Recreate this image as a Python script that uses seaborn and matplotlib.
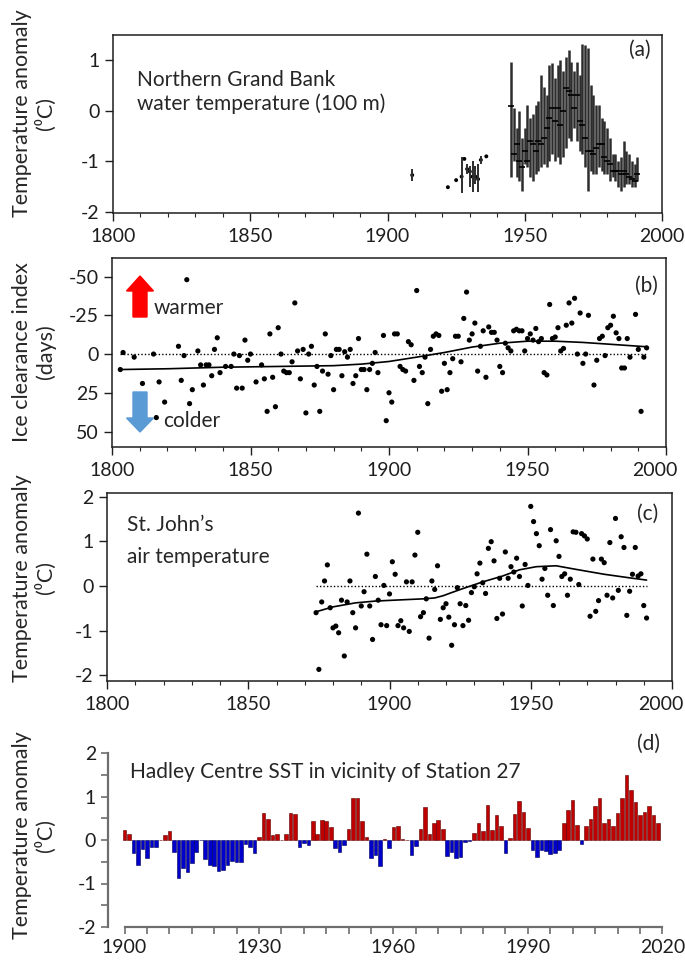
import numpy as np
import matplotlib
matplotlib.use("Agg")
import matplotlib.pyplot as plt
import matplotlib.ticker as mticker
from matplotlib.patches import FancyArrow
from matplotlib.transforms import Affine2D
import seaborn as sns

# ---- data: (a) Northern Grand Bank water temperature (100 m) ----
a_years = list(range(1945, 1992))
a_hi = [0.97, 0.06, -0.33, -0.01, -0.53, -0.33, 0.12, -0.14, -0.07, 0.12,
        0.19, 0.71, 0.48, 0.32, 0.91, 0.94, 0.65, 0.91, 1.01, 0.78,
        1.07, 1.20, 0.97, 0.78, 0.97, 0.71, 1.33, 1.30, 1.24, 0.52,
        0.32, 0.12, 0.12, -0.14, -0.20, -0.33, -0.53, -0.86, -0.86, -0.99,
        -0.92, -0.59, -0.79, -0.86, -0.99, -1.05, -0.92]
a_lo = [-1.31, -0.99, -1.31, -1.38, -1.58, -1.05, -1.12, -1.31, -1.38, -1.25,
        -1.18, -1.12, -1.05, -1.12, -0.99, -0.86, -0.99, -0.92, -1.05, -0.92,
        -0.73, -0.53, -0.59, -0.33, -0.59, -0.79, -0.86, -1.12, -1.58, -1.18,
        -1.25, -1.25, -1.12, -1.18, -1.25, -1.25, -1.38, -1.31, -1.38, -1.51,
        -1.58, -1.51, -1.44, -1.44, -1.51, -1.51, -1.38]
a_mid = [0.09, -0.86, -0.66, -0.99, -1.12, -0.79, -0.99, -0.59, -0.66, -0.79,
         -0.59, -0.66, -0.53, -0.33, -0.14, 0.06, -0.20, 0.06, -0.27, -0.01,
         0.45, 0.39, 0.32, 0.06, 0.32, -0.20, -0.27, -0.53, -0.79, -0.79,
         -0.86, -0.73, -0.66, -0.66, -0.92, -0.99, -1.05, -1.18, -1.18, -1.18,
         -1.25, -1.18, -1.25, -1.31, -1.35, -1.38, -1.25]
a_early_years = [1909, 1922, 1925, 1927, 1928, 1929, 1930, 1931, 1932, 1933, 1934, 1936]
a_early_hi = [-1.15, -1.51, -1.37, -0.91, -0.95, -1.05, -1.10, -1.00, -1.10, -1.05, -0.90, -0.90]
a_early_lo = [-1.39, -1.51, -1.37, -1.63, -0.95, -1.25, -1.50, -1.60, -1.45, -1.60, -1.05, -0.90]
a_early_mid = [-1.27, -1.51, -1.37, -1.30, -0.95, -1.15, -1.20, -1.30, -1.30, -1.35, -0.97, -0.90]

# ---- data: (b) ice clearance index (days) ----
b_years = [1803, 1804, 1808, 1811, 1815, 1816, 1817, 1819, 1824, 1825, 1826, 1827, 1828, 1829,
           1831, 1832, 1833, 1834, 1835, 1836, 1837, 1838, 1839, 1841, 1843, 1844, 1845, 1846,
           1847, 1848, 1849, 1850, 1852, 1854, 1855, 1856, 1857, 1858, 1859, 1860, 1861, 1862,
           1863, 1864, 1865, 1866, 1867, 1868, 1869, 1870, 1871, 1872, 1873, 1874, 1875, 1876,
           1877, 1878, 1879, 1880, 1881, 1882, 1883, 1884, 1885, 1886, 1887, 1888, 1889, 1890,
           1891, 1892, 1893, 1894, 1895, 1896, 1898, 1899, 1900, 1901, 1902, 1903, 1904, 1905,
           1906, 1907, 1908, 1909, 1910, 1911, 1912, 1913, 1914, 1915, 1916, 1917, 1918, 1919,
           1920, 1921, 1922, 1923, 1924, 1925, 1926, 1927, 1928, 1929, 1930, 1931, 1932, 1933,
           1934, 1935, 1936, 1937, 1938, 1939, 1940, 1941, 1942, 1943, 1944, 1945, 1946, 1947,
           1948, 1949, 1950, 1951, 1952, 1953, 1954, 1955, 1956, 1957, 1958, 1959, 1960, 1961,
           1962, 1963, 1964, 1965, 1966, 1967, 1968, 1969, 1970, 1971, 1972, 1974, 1975, 1976,
           1977, 1978, 1979, 1980, 1981, 1982, 1983, 1984, 1985, 1986, 1987, 1989, 1990, 1991,
           1992, 1993]
b_vals = [10, -1, 2, 19, 0, 41, 18, 31, -5, 17, 1, -48, 32, 23,
          -2, 7, 20, 7, 7, 14, -3, -10.5, 12, 8, 8, 0, 22, 1,
          22, -9, 4, 0, 18, 7, 16, 37, -13, 15, 34, -17, 0, 11,
          12, 12, 5, -33, -2, 16, -3, 38, 0, -5, 20, 8, 37, 11,
          -13, 13, 1, 23, -3, -3, 14, -1.5, 2, -3, 19, 14, -10, 10,
          10, 23, 10, 6, -1, 12, -12, 43, 25, 31, -13, -13, 8, 10,
          11, -8, -6, 17, -41, 8, 12, 2, 32, -3, -11.5, -13, -12, 24,
          6, 23, 12, 3, -11.5, -11.5, 5, -23, -40, -9, -13, -20, 11, -5,
          -15, 15, -17.5, -14, -14, -9, 8, 12, -7, -4, -2, -15, -16, -15,
          -15, -2, -10, -13, -9, -16.5, -8, -10, 12, 13.5, -32, -10, -11, -17,
          -2, -3.6, -18.6, -33, -20, -36, 0, -26.5, 6, 0, -25, 20, 4, -10,
          -11.5, 1, -17, -18.6, -24.4, -13.7, -10, 9, 9, -10, 2, -25.6, -3, 37,
          2, -4]
b_smooth_years = [1803, 1820, 1840, 1860, 1880, 1890, 1900, 1910, 1920, 1930, 1940, 1950, 1960, 1970, 1980, 1993]
b_smooth_vals = [10, 9.5, 8.5, 8, 7.5, 6.5, 4.8, 2, -1, -4.5, -7, -8.3, -8.3, -7.5, -6.3, -4.7]

# ---- data: (c) St. John's air temperature ----
c_years = list(range(1874, 1992))
c_vals = [-0.60, -1.87, -0.36, 0.11, 0.47, -0.49, -0.94, -0.90, -1.05, -0.32,
          -1.57, -0.36, 0.11, -0.60, -0.94, 1.63, -0.45, -0.13, 0.71, -0.45,
          -1.20, 0.21, -0.32, -0.87, 0.01, -0.89, -0.18, 0.54, 0.26, -0.89,
          -0.78, -0.94, 0.09, -1.02, 0.09, 0.69, 1.20, -0.69, -0.60, -0.29,
          -1.17, 0.11, -0.08, 0.45, -0.75, -0.49, -0.40, -0.70, -1.33, -0.87,
          -0.04, -0.40, -0.89, -0.44, -0.77, -0.15, -0.02, 0.27, 0.51, 0.07,
          -0.17, 0.84, 0.99, 0.56, -0.73, 0.17, -0.63, 0.76, 0.17, 0.43,
          0.31, 0.62, 0.21, -0.45, 0.48, 0.01, 1.78, 1.44, 1.17, 0.90,
          0.15, 0.39, -0.21, 1.26, -0.44, 1.01, 0.66, 0.21, 0.27, -0.21,
          0.15, 1.21, 1.20, 0.03, 1.17, 1.12, 1.05, -0.68, 0.60, -0.57,
          -0.33, 0.60, 0.52, -0.21, 0.97, -0.27, 1.51, -0.10, 1.10, 0.86,
          -0.66, -0.12, 0.26, 0.86, 0.22, 0.27, -0.44, -0.72]
c_smooth_years = [1874, 1880, 1888, 1895, 1905, 1912, 1916, 1919, 1922, 1926, 1933, 1940,
                  1946, 1952, 1959, 1966, 1976, 1985, 1991]
c_smooth_vals = [-0.58, -0.47, -0.38, -0.34, -0.31, -0.29, -0.27, -0.22, -0.15, -0.06, 0.09, 0.22,
                 0.36, 0.43, 0.45, 0.37, 0.26, 0.18, 0.13]

# ---- data: (d) Hadley Centre SST near Station 27 ----
d_years = list(range(1900, 2020))
d_vals = [0.23, 0.14, -0.29, -0.57, -0.20, -0.42, -0.15, -0.15, 0.00, 0.11,
          0.21, -0.28, -0.88, -0.65, -0.73, -0.54, -0.27, -0.01, -0.44, -0.58,
          -0.60, -0.72, -0.70, -0.58, -0.48, -0.50, -0.50, -0.10, -0.15, -0.30,
          0.08, 0.62, 0.48, 0.12, 0.14, 0.01, 0.13, 0.62, 0.60, -0.17,
          -0.07, -0.12, 0.44, 0.14, 0.47, 0.44, 0.29, -0.18, -0.27, -0.11,
          0.25, 0.97, 0.97, 0.44, 0.08, -0.42, -0.35, -0.60, 0.03, -0.19,
          0.29, 0.33, 0.03, 0.00, -0.35, -0.13, 0.25, 0.77, 0.14, 0.39,
          0.45, 0.25, -0.37, -0.27, -0.41, -0.38, -0.05, -0.03, 0.15, 0.40,
          0.20, 0.81, 0.23, 0.57, 0.33, -0.29, 0.05, 0.60, 0.90, 0.64,
          0.28, -0.22, -0.38, -0.24, -0.26, -0.33, -0.30, -0.23, 0.38, 0.70,
          0.92, 0.34, -0.10, 0.32, 0.48, 0.78, 0.96, 0.39, 0.48, 0.32,
          0.62, 0.96, 1.50, 1.15, 0.87, 0.57, 0.65, 0.78, 0.57, 0.39]

# ---- style ----
sns.set_style("ticks")
plt.rcParams["font.family"] = ["Lato", "DejaVu Sans"]
plt.rcParams["axes.unicode_minus"] = False

W, H = 685, 961
fig = plt.figure(figsize=(W / 100, H / 100), dpi=100)
px = Affine2D().scale(1 / 100, -1 / 100).translate(0, H / 100) + fig.dpi_scale_trans


def box(l, t, r, b):
    return [l / W, 1 - b / H, (r - l) / W, (b - t) / H]


def frame(ax, shift_last=False):
    for s in ax.spines.values():
        s.set_visible(True)
        s.set_color("#1e1e1e")
        s.set_linewidth(1.1)
    ax.set_xlim(1800, 2000)
    ax.xaxis.set_major_locator(mticker.MultipleLocator(50))
    ax.xaxis.set_minor_locator(mticker.MultipleLocator(10))
    ax.tick_params(which="major", length=6, width=1, labelsize=14, colors="#1e1e1e")
    ax.tick_params(which="minor", length=3, width=0.8)
    ax.tick_params(axis="x", pad=5)
    if shift_last:
        # last label sits at the figure edge: draw it nudged left
        ax.xaxis.set_major_formatter(mticker.FuncFormatter(lambda v, p: "" if v >= 2000 else f"{v:.0f}"))
        ax.annotate("2000", xy=(2000, 0), xycoords=("data", "axes fraction"),
                    xytext=(-8, -11), textcoords="offset points", ha="center", va="top",
                    fontsize=14, color="#1e1e1e", annotation_clip=False)


def ftext(x, y, s, **kw):
    kw.setdefault("fontsize", 15)
    fig.text(x, y, s, transform=px, **kw)


# (a)
ax_a = fig.add_axes(box(113, 35, 662, 213))
frame(ax_a)
ax_a.vlines(a_years, a_lo, a_hi, color="#2d2d2d", lw=1.8)
ax_a.plot(a_years, a_mid, ls="none", marker="_", ms=4, mew=1.2, color="black")
early = [(y, lo, hi) for y, lo, hi in zip(a_early_years, a_early_lo, a_early_hi) if hi != lo]
ax_a.vlines([e[0] for e in early], [e[1] for e in early], [e[2] for e in early], color="#2d2d2d", lw=1.4)
sns.scatterplot(x=a_early_years, y=a_early_mid, ax=ax_a, color="black", s=8, edgecolor="none", legend=False)
ax_a.set_ylim(-2.02, 1.5)
ax_a.set_yticks([-2, -1, 0, 1])
ftext(137, 80, "Northern Grand Bank", va="center")
ftext(137, 104, "water temperature (100 m)", va="center")
ftext(640, 50, "(a)", ha="center", va="center")

# (b)
ax_b = fig.add_axes(box(112, 258, 666, 447))
frame(ax_b, shift_last=True)
ax_b.plot([min(b_years), max(b_years)], [0, 0], ls=(0, (1, 1.5)), color="black", lw=1)
sns.lineplot(x=b_smooth_years, y=b_smooth_vals, ax=ax_b, color="black", lw=1.2)
sns.scatterplot(x=b_years, y=b_vals, ax=ax_b, color="black", s=14, edgecolor="none", legend=False)
ax_b.set_ylim(60, -62)
ax_b.set_yticks([-50, -25, 0, 25, 50])
fig.patches.append(FancyArrow(140, 317, 0, -41, width=14, head_width=27, head_length=15,
                              length_includes_head=True, color="#ff0000", transform=px, figure=fig))
fig.patches.append(FancyArrow(140, 392, 0, 40, width=14, head_width=27, head_length=14,
                              length_includes_head=True, color="#5b9bd5", transform=px, figure=fig))
ftext(154, 308, "warmer", va="center")
ftext(163, 421, "colder", va="center")
ftext(646, 286, "(b)", ha="center", va="center")

# (c)
ax_c = fig.add_axes(box(107, 493, 672, 681))
frame(ax_c, shift_last=True)
ax_c.plot([min(c_years), max(c_years)], [0, 0], ls=(0, (1, 1.5)), color="black", lw=1)
sns.lineplot(x=c_smooth_years, y=c_smooth_vals, ax=ax_c, color="black", lw=1.2)
sns.scatterplot(x=c_years, y=c_vals, ax=ax_c, color="black", s=14, edgecolor="none", legend=False)
ax_c.set_ylim(-2.13, 2.08)
ax_c.set_yticks([-2, -1, 0, 1, 2])
ftext(127, 525, "St. John\u2019s", va="center")
ftext(127, 557, "air temperature", va="center")
ftext(648, 514, "(c)", ha="center", va="center")

# (d)
ax_d = fig.add_axes(box(108, 753, 665, 927))
cols = ["#c00000" if v >= 0 else "#0000cc" for v in d_vals]
edges = ["#5a0000" if v >= 0 else "#000055" for v in d_vals]
ax_d.bar(d_years, d_vals, width=0.8, color=cols, edgecolor=edges, linewidth=0.4)
ax_d.set_xlim(1896.3, 2020.6)
ax_d.set_ylim(-2, 2)
for s in ["top", "right"]:
    ax_d.spines[s].set_visible(False)
for s in ["left", "bottom"]:
    ax_d.spines[s].set_color("#6e6e6e")
    ax_d.spines[s].set_linewidth(1.6)
ax_d.spines["bottom"].set_bounds(1900, 2020)
ax_d.set_xticks(range(1900, 2021, 30))
ax_d.xaxis.set_minor_locator(mticker.MultipleLocator(5))
ax_d.set_yticks([-2, -1, 0, 1, 2])
ax_d.yaxis.set_minor_locator(mticker.MultipleLocator(0.5))
ax_d.tick_params(which="both", length=5, width=1.2, color="#6e6e6e", labelsize=14, labelcolor="#1e1e1e")
ftext(130, 772, "Hadley Centre SST in vicinity of Station 27", va="center")
ftext(649, 744, "(d)", ha="center", va="center")

# y labels
ylab = dict(rotation=90, ha="center", va="center", linespacing=1.15, fontsize=15.5)
ftext(34, 113, "Temperature anomaly\n(\u2070C)", **ylab)
ftext(34, 352, "Ice clearance index\n(days)", **ylab)
ftext(34, 578, "Temperature anomaly\n(\u2070C)", **ylab)
ftext(34, 835, "Temperature anomaly\n(\u2070C)", **ylab)

fig.savefig("out.png", dpi=100)
